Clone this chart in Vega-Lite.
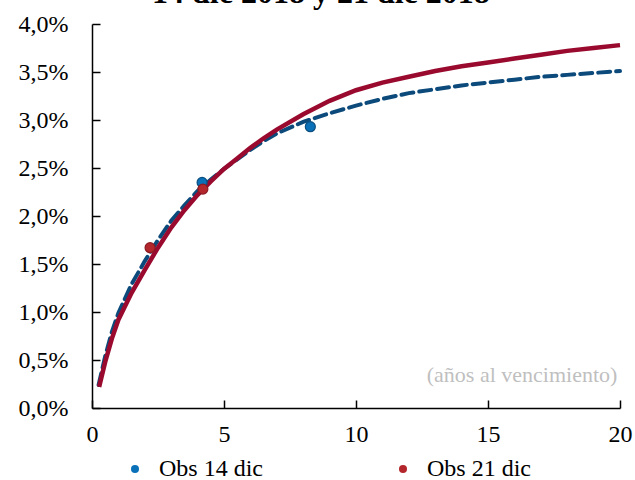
{
  "$schema": "https://vega.github.io/schema/vega-lite/v6.json",
  "width": 528,
  "height": 384,
  "autosize": {"type": "none"},
  "padding": {"left": 92, "top": 24, "right": 15, "bottom": 72},
  "background": "white",
  "config": {
    "view": {"stroke": null},
    "font": "Liberation Serif",
    "axis": {
      "grid": false,
      "domainColor": "black",
      "domainWidth": 1.5,
      "tickColor": "black",
      "tickWidth": 1.5,
      "tickSize": -8,
      "labelFont": "Liberation Serif",
      "labelFontSize": 24,
      "labelColor": "black",
      "title": null
    }
  },
  "datasets": {
    "curvas": [
      {"curva": "14 dic", "plazo": 0.25, "tasa": 0.24},
      {"curva": "14 dic", "plazo": 0.5, "tasa": 0.54},
      {"curva": "14 dic", "plazo": 0.75, "tasa": 0.79},
      {"curva": "14 dic", "plazo": 1.0, "tasa": 0.99},
      {"curva": "14 dic", "plazo": 1.5, "tasa": 1.29},
      {"curva": "14 dic", "plazo": 2.0, "tasa": 1.53},
      {"curva": "14 dic", "plazo": 2.5, "tasa": 1.75},
      {"curva": "14 dic", "plazo": 3.0, "tasa": 1.95},
      {"curva": "14 dic", "plazo": 3.5, "tasa": 2.11},
      {"curva": "14 dic", "plazo": 4.0, "tasa": 2.26},
      {"curva": "14 dic", "plazo": 4.5, "tasa": 2.38},
      {"curva": "14 dic", "plazo": 5.0, "tasa": 2.49},
      {"curva": "14 dic", "plazo": 5.5, "tasa": 2.59},
      {"curva": "14 dic", "plazo": 6.0, "tasa": 2.69},
      {"curva": "14 dic", "plazo": 6.5, "tasa": 2.78},
      {"curva": "14 dic", "plazo": 7.0, "tasa": 2.86},
      {"curva": "14 dic", "plazo": 8.0, "tasa": 2.98},
      {"curva": "14 dic", "plazo": 9.0, "tasa": 3.07},
      {"curva": "14 dic", "plazo": 10.0, "tasa": 3.15},
      {"curva": "14 dic", "plazo": 11.0, "tasa": 3.22},
      {"curva": "14 dic", "plazo": 12.0, "tasa": 3.28},
      {"curva": "14 dic", "plazo": 13.0, "tasa": 3.32},
      {"curva": "14 dic", "plazo": 14.0, "tasa": 3.36},
      {"curva": "14 dic", "plazo": 15.0, "tasa": 3.39},
      {"curva": "14 dic", "plazo": 16.0, "tasa": 3.42},
      {"curva": "14 dic", "plazo": 17.0, "tasa": 3.45},
      {"curva": "14 dic", "plazo": 18.0, "tasa": 3.47},
      {"curva": "14 dic", "plazo": 19.0, "tasa": 3.49},
      {"curva": "14 dic", "plazo": 20.0, "tasa": 3.51},
      {"curva": "21 dic", "plazo": 0.27, "tasa": 0.22},
      {"curva": "21 dic", "plazo": 0.5, "tasa": 0.48},
      {"curva": "21 dic", "plazo": 0.75, "tasa": 0.72},
      {"curva": "21 dic", "plazo": 1.0, "tasa": 0.92},
      {"curva": "21 dic", "plazo": 1.5, "tasa": 1.2},
      {"curva": "21 dic", "plazo": 2.0, "tasa": 1.44},
      {"curva": "21 dic", "plazo": 2.5, "tasa": 1.67},
      {"curva": "21 dic", "plazo": 3.0, "tasa": 1.88},
      {"curva": "21 dic", "plazo": 3.5, "tasa": 2.06},
      {"curva": "21 dic", "plazo": 4.0, "tasa": 2.22},
      {"curva": "21 dic", "plazo": 4.5, "tasa": 2.36},
      {"curva": "21 dic", "plazo": 5.0, "tasa": 2.49},
      {"curva": "21 dic", "plazo": 5.5, "tasa": 2.6},
      {"curva": "21 dic", "plazo": 6.0, "tasa": 2.71},
      {"curva": "21 dic", "plazo": 6.5, "tasa": 2.81},
      {"curva": "21 dic", "plazo": 7.0, "tasa": 2.9},
      {"curva": "21 dic", "plazo": 8.0, "tasa": 3.06},
      {"curva": "21 dic", "plazo": 9.0, "tasa": 3.2},
      {"curva": "21 dic", "plazo": 10.0, "tasa": 3.31},
      {"curva": "21 dic", "plazo": 11.0, "tasa": 3.39},
      {"curva": "21 dic", "plazo": 12.0, "tasa": 3.45},
      {"curva": "21 dic", "plazo": 13.0, "tasa": 3.51},
      {"curva": "21 dic", "plazo": 14.0, "tasa": 3.56},
      {"curva": "21 dic", "plazo": 15.0, "tasa": 3.6},
      {"curva": "21 dic", "plazo": 16.0, "tasa": 3.64},
      {"curva": "21 dic", "plazo": 17.0, "tasa": 3.68},
      {"curva": "21 dic", "plazo": 18.0, "tasa": 3.72},
      {"curva": "21 dic", "plazo": 19.0, "tasa": 3.75},
      {"curva": "21 dic", "plazo": 20.0, "tasa": 3.78}
    ],
    "obs": [
      {"serie": "Obs 14 dic", "plazo": 4.17, "tasa": 2.35},
      {"serie": "Obs 14 dic", "plazo": 8.27, "tasa": 2.93},
      {"serie": "Obs 21 dic", "plazo": 2.2, "tasa": 1.67},
      {"serie": "Obs 21 dic", "plazo": 4.2, "tasa": 2.28}
    ]
  },
  "layer": [
    {
      "data": {"name": "curvas"},
      "transform": [{"filter": "datum.curva === '14 dic'"}],
      "mark": {"type": "line", "color": "#0B4A7A", "strokeWidth": 4, "strokeDash": [12, 6], "strokeCap": "round"},
      "encoding": {
        "x": {"field": "plazo", "type": "quantitative", "scale": {"domain": [0, 20], "nice": false},
          "axis": {"values": [0, 5, 10, 15, 20], "labelPadding": 22, "labelFlush": false}},
        "y": {"field": "tasa", "type": "quantitative", "scale": {"domain": [0, 4], "nice": false},
          "axis": {"values": [0, 0.5, 1, 1.5, 2, 2.5, 3, 3.5, 4], "labelPadding": 32,
            "labelExpr": "replace(format(datum.value, '.1f'), '.', ',') + '%'"}}
      }
    },
    {
      "data": {"name": "curvas"},
      "transform": [{"filter": "datum.curva === '21 dic'"}],
      "mark": {"type": "line", "color": "#990A2E", "strokeWidth": 4.5},
      "encoding": {
        "x": {"field": "plazo", "type": "quantitative"},
        "y": {"field": "tasa", "type": "quantitative"}
      }
    },
    {
      "data": {"name": "obs"},
      "mark": {"type": "point", "filled": true, "size": 100, "opacity": 1, "strokeWidth": 1.2},
      "encoding": {
        "x": {"field": "plazo", "type": "quantitative"},
        "y": {"field": "tasa", "type": "quantitative"},
        "fill": {"field": "serie", "type": "nominal",
          "scale": {"domain": ["Obs 14 dic", "Obs 21 dic"], "range": ["#0A70B8", "#B3262B"]},
          "legend": {"orient": "none", "legendX": 31, "legendY": 433, "direction": "horizontal",
            "title": null, "symbolType": "circle", "symbolSize": 64, "symbolStrokeWidth": 0,
            "labelFont": "Liberation Serif", "labelFontSize": 24, "labelColor": "black",
            "labelOffset": 12, "columnPadding": 128, "padding": 0, "labelLimit": 300}},
        "stroke": {"field": "serie", "type": "nominal",
          "scale": {"domain": ["Obs 14 dic", "Obs 21 dic"], "range": ["#0B4F80", "#8A1A22"]},
          "legend": null}
      }
    },
    {
      "data": {"values": [{"nota": "(años al vencimiento)"}]},
      "mark": {"type": "text", "align": "right", "baseline": "alphabetic", "font": "Liberation Serif", "fontSize": 22, "color": "#BFBFBF"},
      "encoding": {
        "x": {"datum": 19.9},
        "y": {"datum": 0.27},
        "text": {"field": "nota"}
      }
    },
    {
      "data": {"values": [{"titulo": "14 dic 2018 y 21 dic 2018"}]},
      "mark": {"type": "text", "align": "center", "baseline": "alphabetic", "font": "Liberation Serif", "fontSize": 32, "fontWeight": "bold", "color": "black"},
      "encoding": {
        "x": {"datum": 8.67},
        "y": {"datum": 4.22},
        "text": {"field": "titulo"}
      }
    }
  ]
}
